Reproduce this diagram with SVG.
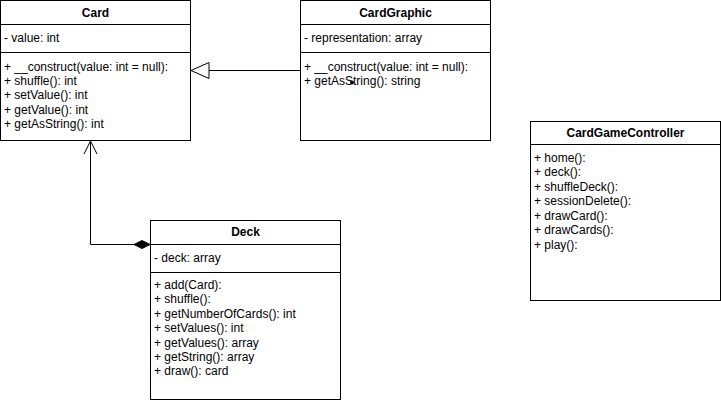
<svg xmlns="http://www.w3.org/2000/svg" width="721" height="401" viewBox="0 0 721 401">
  <style>
    .box { fill: #ffffff; stroke: #000000; stroke-width: 1; }
    .sep { stroke: #000000; stroke-width: 1; fill: none; }
    .title { font-family: "Liberation Sans", Arial, sans-serif; font-size: 12px; font-weight: bold; text-anchor: middle; fill: #000000; }
    .item { font-family: "Liberation Sans", Arial, sans-serif; font-size: 12px; fill: #000000; }
    .edge { stroke: #000000; stroke-width: 1; fill: none; }
  </style>

  <rect width="721" height="401" fill="#ffffff"/>

  <!-- connectors -->
  <g id="connectors">
    <!-- CardGraphic extends Card -->
    <line class="edge" x1="300" y1="70.5" x2="209" y2="70.5"/>
    <polygon points="191,70.5 209,62.5 209,78.5" fill="#ffffff" stroke="#000000" stroke-width="1"/>
    <!-- Deck composed of Card -->
    <polyline class="edge" points="134,244.5 90.5,244.5 90.5,141"/>
    <polyline class="edge" points="84,154 90.5,141 97,154"/>
    <polygon points="150,244.5 142,240.5 134,244.5 142,248.5" fill="#000000" stroke="#000000" stroke-width="1"/>
  </g>

  <!-- Card -->
  <g id="card">
    <rect class="box" x="0.5" y="0.5" width="190" height="140"/>
    <line class="sep" x1="0.5" y1="24.5" x2="190.5" y2="24.5"/>
    <line class="sep" x1="0.5" y1="52.5" x2="190.5" y2="52.5"/>
    <text class="title" x="95.5" y="16.5">Card</text>
    <text class="item" x="4" y="42">- value: int</text>
    <text class="item" x="4" y="70.5">+ __construct(value: int = null):</text>
    <text class="item" x="4" y="84.9">+ shuffle(): int</text>
    <text class="item" x="4" y="99.3">+ setValue(): int</text>
    <text class="item" x="4" y="113.7">+ getValue(): int</text>
    <text class="item" x="4" y="128.1">+ getAsString(): int</text>
  </g>

  <!-- CardGraphic -->
  <g id="cardgraphic">
    <rect class="box" x="300.5" y="0.5" width="190" height="140"/>
    <line class="sep" x1="300.5" y1="24.5" x2="490.5" y2="24.5"/>
    <line class="sep" x1="300.5" y1="52.5" x2="490.5" y2="52.5"/>
    <text class="title" x="395.5" y="16.5">CardGraphic</text>
    <text class="item" x="304" y="42">- representation: array</text>
    <text class="item" x="304" y="70.5">+ __construct(value: int = null):</text>
    <text class="item" x="304" y="84.9">+ getAsString(): string</text>
    <circle cx="352" cy="82.5" r="2" fill="#000000"/>
  </g>

  <!-- Deck -->
  <g id="deck">
    <rect class="box" x="150.5" y="220.5" width="190" height="179"/>
    <line class="sep" x1="150.5" y1="244.5" x2="340.5" y2="244.5"/>
    <line class="sep" x1="150.5" y1="272.5" x2="340.5" y2="272.5"/>
    <text class="title" x="245.5" y="235.5">Deck</text>
    <text class="item" x="154" y="262">- deck: array</text>
    <text class="item" x="154" y="289">+ add(Card):</text>
    <text class="item" x="154" y="303.4">+ shuffle():</text>
    <text class="item" x="154" y="317.8">+ getNumberOfCards(): int</text>
    <text class="item" x="154" y="332.2">+ setValues(): int</text>
    <text class="item" x="154" y="346.6">+ getValues(): array</text>
    <text class="item" x="154" y="361">+ getString(): array</text>
    <text class="item" x="154" y="375.4">+ draw(): card</text>
  </g>

  <!-- CardGameController -->
  <g id="cardgamecontroller">
    <rect class="box" x="530.5" y="121.5" width="190" height="179"/>
    <line class="sep" x1="530.5" y1="144.5" x2="720.5" y2="144.5"/>
    <text class="title" x="625.5" y="136.5">CardGameController</text>
    <text class="item" x="534" y="161.5">+ home():</text>
    <text class="item" x="534" y="176">+ deck():</text>
    <text class="item" x="534" y="190.5">+ shuffleDeck():</text>
    <text class="item" x="534" y="205">+ sessionDelete():</text>
    <text class="item" x="534" y="219.5">+ drawCard():</text>
    <text class="item" x="534" y="234">+ drawCards():</text>
    <text class="item" x="534" y="248.5">+ play():</text>
  </g>
</svg>
